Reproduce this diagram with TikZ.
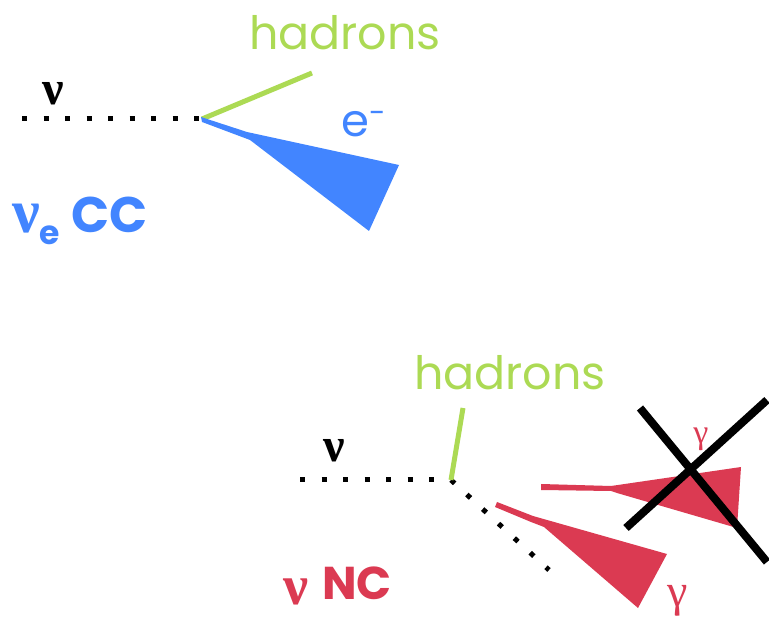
\documentclass[tikz,border=0pt]{standalone}
\usepackage{fontspec}
\setmainfont{Poppins}
\newfontfamily\greek{Liberation Serif}
\definecolor{hadgreen}{RGB}{172,218,84}
\definecolor{eblue}{RGB}{66,133,255}
\definecolor{gamred}{RGB}{219,58,82}

\begin{document}
\begin{tikzpicture}[x=1pt,y=-1pt,
    nudot/.style = {line width=5pt, dash pattern=on 5pt off 16.5pt},
    track/.style = {line width=5pt, hadgreen},
    lbl/.style = {inner sep=0pt, anchor=base west},
    veto/.style = {line width=8pt}]
\useasboundingbox (0,0) rectangle (769,617);

% nu_e CC
\coordinate (vA) at (202,119);
\coordinate (inA) at (22,119);
\coordinate (hA) at (312,73);
\node[lbl,hadgreen,font=\fontsize{46}{50}\selectfont] (hadA) at (249,50) {hadrons};
\node[lbl,font=\fontsize{48}{50}\selectfont\greek\bfseries] (nuA) at (42,105) {ν};
\node[lbl,eblue,font=\fontsize{45}{50}\selectfont] (eA) at (341,137) {e\raisebox{13pt}{\fontsize{30}{30}\selectfont -}};
\node[lbl,eblue,font=\fontsize{50}{50}\selectfont\bfseries] (ccA) at (12,233)
    {{\greek\fontsize{62}{62}\selectfont ν}\raisebox{-12pt}{\fontsize{33}{33}\selectfont e}\hspace{11pt}CC};
\draw[nudot] (inA) -- (vA);
\draw[track] (vA) -- (hA);
\fill[eblue] (201,117) -- (247,132) -- (399,165) -- (369,231) -- (250,140) -- (202,122) -- cycle;

% nu NC
\coordinate (vB) at (451,480);
\coordinate (inB) at (300,480);
\coordinate (hB) at (463,408);
\coordinate (outB) at (549,570);
\node[lbl,hadgreen,font=\fontsize{46}{50}\selectfont] (hadB) at (414,390) {hadrons};
\node[lbl,font=\fontsize{48}{50}\selectfont\greek\bfseries] (nuB) at (323,462) {ν};
\node[lbl,gamred,font=\fontsize{56}{56}\selectfont\greek\bfseries] (nuC) at (283,604) {ν};
\node[lbl,gamred,font=\fontsize{46}{50}\selectfont\bfseries] (ncB) at (322,599) {NC};
\draw[nudot] (inB) -- (vB);
\draw[nudot] (vB) -- (outB);
\draw[track] (vB) -- (hB);
\fill[gamred] (497,502) -- (533,516) -- (667,554) -- (638,608) -- (544,527) -- (531,522) -- (495,507) -- cycle;
\fill[gamred] (541,484) -- (611,486) -- (741,467) -- (737,528) -- (617,493) -- (611,491) -- (541,490) -- cycle;
\node[anchor=base,inner sep=0pt,gamred,font=\fontsize{46}{50}\selectfont\greek] (gB) at (678,606) {γ};
\node[anchor=base,inner sep=0pt,gamred,font=\fontsize{34}{40}\selectfont\greek] (gC) at (701,444) {γ};
\coordinate (xa) at (640,408);
\coordinate (xb) at (767,562);
\coordinate (xc) at (767,400);
\coordinate (xd) at (626,528);
\draw[veto] (xa) -- (xb);
\draw[veto] (xc) -- (xd);
\end{tikzpicture}
\end{document}
